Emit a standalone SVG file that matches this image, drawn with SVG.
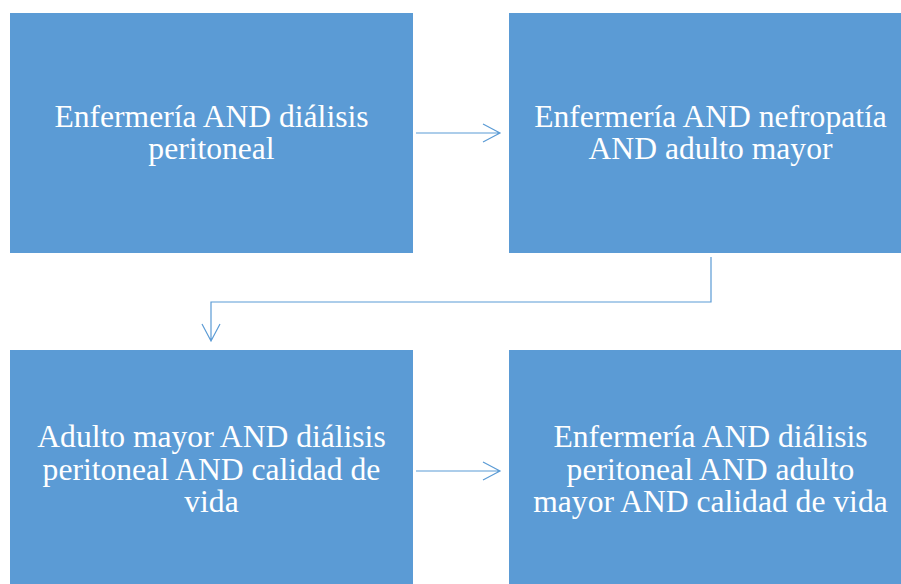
<svg xmlns="http://www.w3.org/2000/svg" width="901" height="584" viewBox="0 0 901 584">
<style>
.box{fill:#5B9BD5}
.t{font-family:"Liberation Serif","Times New Roman",serif;font-size:31.6px;fill:#FFFFFF;text-anchor:middle}
.c{fill:none;stroke:#5B9BD5;stroke-width:1.2}
</style>
<rect width="901" height="584" fill="#FFFFFF"/>
<g id="n1"><rect class="box" x="10" y="13" width="403" height="240"/>
<text class="t" x="211.5" y="127">Enfermería AND diálisis</text>
<text class="t" x="211.5" y="159">peritoneal</text></g>
<g id="n2"><rect class="box" x="509" y="13" width="403" height="240"/>
<text class="t" x="710.5" y="127">Enfermería AND nefropatía</text>
<text class="t" x="710.5" y="159">AND adulto mayor</text></g>
<g id="n3"><rect class="box" x="10" y="350" width="403" height="240"/>
<text class="t" x="211.5" y="447">Adulto mayor AND diálisis</text>
<text class="t" x="211.5" y="480">peritoneal AND calidad de</text>
<text class="t" x="211.5" y="512">vida</text></g>
<g id="n4"><rect class="box" x="509" y="350" width="403" height="240"/>
<text class="t" x="710.5" y="447">Enfermería AND diálisis</text>
<text class="t" x="710.5" y="480">peritoneal AND adulto</text>
<text class="t" x="710.5" y="512">mayor AND calidad de vida</text></g>
<g id="connectors">
<path class="c" d="M416 133H500M483 124L500 133L483 142"/>
<path class="c" d="M711 257V302H211V341M202 324L211 341L220 324"/>
<path class="c" d="M416 471H500M483 462L500 471L483 480"/>
</g>
</svg>
